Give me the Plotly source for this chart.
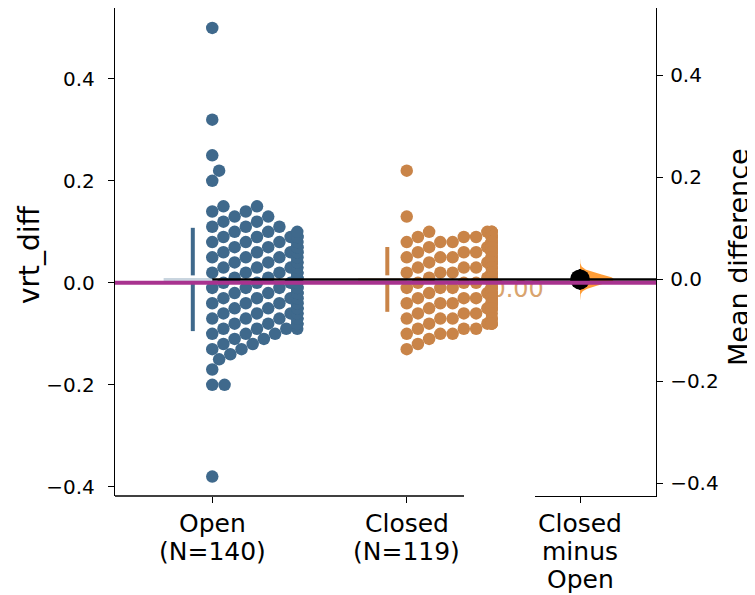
import math
import numpy as np
import plotly.graph_objects as go

# ---------------- data ----------------
categories = ["Open", "Closed"]
group_label_lines = [["Open", "(N=140)"], ["Closed", "(N=119)"]]
delta_label_lines = ["Closed", "minus", "Open"]
y_title = "vrt_diff"
y2_title = "Mean difference"

open_vals = [
    0.50, 0.32, 0.25, 0.22, 0.20, -0.17, -0.20, -0.20, -0.38,
    -0.15,
    -0.14,
    -0.13, -0.13,
    -0.12, -0.12,
    -0.11, -0.11,
    -0.10, -0.10, -0.10,
    -0.09, -0.09, -0.09, -0.09,
    -0.08, -0.08, -0.08, -0.08, -0.08,
    -0.07, -0.07, -0.07, -0.07, -0.07, -0.07,
    -0.06, -0.06, -0.06, -0.06, -0.06, -0.06,
    -0.05, -0.05, -0.05, -0.05, -0.05, -0.05,
    -0.04, -0.04, -0.04, -0.04, -0.04, -0.04,
    -0.03, -0.03, -0.03, -0.03, -0.03, -0.03,
    -0.02, -0.02, -0.02, -0.02, -0.02, -0.02,
    -0.01, -0.01, -0.01, -0.01, -0.01, -0.01,
    0.00, 0.00, 0.00, 0.00, 0.00, 0.00,
    0.01, 0.01, 0.01, 0.01, 0.01, 0.01,
    0.02, 0.02, 0.02, 0.02, 0.02, 0.02,
    0.03, 0.03, 0.03, 0.03, 0.03,
    0.04, 0.04, 0.04, 0.04, 0.04,
    0.05, 0.05, 0.05, 0.05, 0.05,
    0.06, 0.06, 0.06, 0.06, 0.06, 0.06,
    0.07, 0.07, 0.07, 0.07, 0.07,
    0.08, 0.08, 0.08, 0.08, 0.08,
    0.09, 0.09, 0.09, 0.09, 0.09, 0.09,
    0.10, 0.10, 0.10,
    0.11, 0.11, 0.11,
    0.12, 0.12,
    0.13, 0.13,
    0.14, 0.14,
    0.15, 0.15,
]

closed_vals = [
    0.22, 0.13,
    0.10, 0.10, 0.10, 0.10,
    0.09, 0.09, 0.09, 0.09, 0.09, 0.09,
    0.08, 0.08, 0.08, 0.08, 0.08, 0.08, 0.08,
    0.07, 0.07, 0.07, 0.07, 0.07, 0.07,
    0.06, 0.06, 0.06, 0.06, 0.06, 0.06,
    0.05, 0.05, 0.05, 0.05, 0.05, 0.05,
    0.04, 0.04, 0.04, 0.04, 0.04, 0.04,
    0.03, 0.03, 0.03, 0.03, 0.03, 0.03,
    0.02, 0.02, 0.02, 0.02, 0.02, 0.02, 0.02,
    0.01, 0.01, 0.01, 0.01, 0.01, 0.01,
    0.00, 0.00, 0.00, 0.00, 0.00, 0.00,
    -0.01, -0.01, -0.01, -0.01, -0.01, -0.01,
    -0.02, -0.02, -0.02, -0.02, -0.02,
    -0.03, -0.03, -0.03, -0.03, -0.03, -0.03,
    -0.04, -0.04, -0.04, -0.04, -0.04, -0.04,
    -0.05, -0.05, -0.05, -0.05, -0.05,
    -0.06, -0.06, -0.06, -0.06,
    -0.07, -0.07, -0.07, -0.07, -0.07,
    -0.08, -0.08, -0.08, -0.08, -0.08,
    -0.09, -0.09, -0.09,
    -0.10, -0.10, -0.10,
    -0.11, -0.12, -0.13,
]

y_tickvals = [-0.4, -0.2, 0.0, 0.2, 0.4]
y_ticktext = ["\u22120.4", "\u22120.2", "0.0", "0.2", "0.4"]

# ---------------- styling / layout constants ----------------
W, H = 755, 595
OFF = 8                    # page body margin
FONT = "DejaVu Sans"
OPEN_C = "#3F698C"
CLOSED_C = "#C98448"
OPEN_LIGHT = "#C9D5DF"
CLOSED_LIGHT = "#EFD3BB"
VIOLIN_C = "rgba(255,140,20,0.85)"
PURPLE = "#A8338F"


def px(xp):
    return (xp - OFF) / W


def py(yp):
    return (H - (yp - OFF)) / H


X1_L, X1_R = 115, 525      # raw-data axis domain (page px)
X1_SPINE_END = 464
X2_L, X2_R = 535, 656      # delta axis domain (page px)
Y_T, Y_B = 8, 496
YMIN, YMAX = -0.418, 0.539
PPU_X1 = 194.5             # px per category unit
X1_RANGE = [-0.5, -0.5 + (X1_R - X1_L) / PPU_X1]
X2_RANGE = [-0.45, -0.45 + (X2_R - X2_L) / 100.0]
PPU_Y = (Y_B - Y_T) / (YMAX - YMIN)

DOT_D = 12.3
MAX_OFF = 85.0


def swarm_offsets(vals, d, ppu, max_off):
    ys = np.asarray(vals, dtype=float) * ppu
    order = np.argsort(ys, kind="stable")
    out = np.zeros(len(ys))
    px_l, py_l = [], []
    for i in order:
        y = ys[i]
        neigh = [(a, b) for a, b in zip(px_l, py_l) if abs(b - y) < d]
        cand = [0.0]
        for a, b in neigh:
            dx = math.sqrt(d * d - (b - y) ** 2)
            cand += [a + dx, a - dx]
        cand = sorted(c for c in cand if c >= -1e-9)
        x = cand[-1]
        for c in cand:
            if all((c - a) ** 2 + (y - b) ** 2 >= d * d - 1e-6 for a, b in neigh):
                x = c
                break
        px_l.append(x)
        py_l.append(y)
        out[i] = min(x, max_off)
    return out


open_x = swarm_offsets(open_vals, DOT_D, PPU_Y, MAX_OFF) / PPU_X1 + 0
closed_x = swarm_offsets(closed_vals, DOT_D, PPU_Y, MAX_OFF) / PPU_X1 + 1

m_open, sd_open = float(np.mean(open_vals)), float(np.std(open_vals, ddof=1))
m_closed, sd_closed = float(np.mean(closed_vals)), float(np.std(closed_vals, ddof=1))
diff = m_closed - m_open
se = math.sqrt(sd_open ** 2 / len(open_vals) + sd_closed ** 2 / len(closed_vals))

fig = go.Figure()

# light mean lines
for c, m, col in [(0, m_open, OPEN_LIGHT), (1, m_closed, CLOSED_LIGHT)]:
    fig.add_trace(go.Scatter(x=[c - 0.25, c], y=[m, m], mode="lines",
                             line=dict(color=col, width=3), hoverinfo="skip",
                             xaxis="x", yaxis="y"))

# gapped mean +/- sd lines
GAP = 0.008
for c, m, s, col in [(0, m_open, sd_open, OPEN_C), (1, m_closed, sd_closed, CLOSED_C)]:
    xx = c - 0.1
    fig.add_trace(go.Scatter(x=[xx, xx, None, xx, xx],
                             y=[m + s, m + GAP, None, m - GAP, m - s],
                             mode="lines", line=dict(color=col, width=4),
                             hoverinfo="skip", xaxis="x", yaxis="y"))

# effect size text (behind dots)
fig.add_trace(go.Scatter(x=[1.43], y=[-0.015], mode="text",
                         text=[f"{diff:.2f}"], textposition="middle right",
                         textfont=dict(family=FONT, size=24, color="#D9A46E"),
                         cliponaxis=False, hoverinfo="skip", xaxis="x", yaxis="y"))

# swarms
fig.add_trace(go.Scatter(x=open_x, y=open_vals, mode="markers",
                         marker=dict(size=12.5, color=OPEN_C, line=dict(width=0)),
                         cliponaxis=False, xaxis="x", yaxis="y"))
fig.add_trace(go.Scatter(x=closed_x, y=closed_vals, mode="markers",
                         marker=dict(size=12.5, color=CLOSED_C, line=dict(width=0)),
                         cliponaxis=False, xaxis="x", yaxis="y"))

# delta: distribution of the mean difference (normal approximation) as half violin
yy = np.linspace(diff - 4 * se, diff + 4 * se, 161)
pdf = np.exp(-0.5 * ((yy - diff) / se) ** 2)
vx = 0.34 * pdf / pdf.max()
fig.add_trace(go.Scatter(x=np.concatenate([vx, np.zeros_like(vx)[::-1]]),
                         y=np.concatenate([yy, yy[::-1]]),
                         fill="toself", fillcolor=VIOLIN_C, mode="lines",
                         line=dict(width=0, color=VIOLIN_C), hoverinfo="skip",
                         xaxis="x2", yaxis="y2"))
fig.add_trace(go.Scatter(x=[0, 0], y=[diff - 1.96 * se, diff + 1.96 * se], mode="lines",
                         line=dict(color="black", width=2.5), xaxis="x2", yaxis="y2"))
fig.add_trace(go.Scatter(x=[0], y=[diff], mode="markers",
                         marker=dict(size=20, color="black"), xaxis="x2", yaxis="y2"))

open_px = X1_L + (0 - X1_RANGE[0]) * PPU_X1
fig.add_shape(type="line", xref="paper", yref="paper",
              x0=px(X1_L), x1=px(X1_SPINE_END), y0=py(Y_B), y1=py(Y_B),
              line=dict(color="black", width=1.3), layer="above")
fig.add_shape(type="line", xref="paper", yref="y",
              x0=px(open_px), x1=px(X2_R), y0=m_open, y1=m_open,
              line=dict(color="black", width=2.5), layer="above")
fig.add_shape(type="line", xref="paper", yref="y",
              x0=px(X1_L), x1=px(X2_R), y0=0, y1=0,
              line=dict(color=PURPLE, width=4), layer="above")

# x tick labels (multi-line, tight line spacing)
LINE_Y = [523, 551, 579]
label_font = dict(family=FONT, size=25, color="black")
for c, lines in enumerate(group_label_lines):
    for k, t in enumerate(lines):
        fig.add_annotation(x=c, xref="x", y=py(LINE_Y[k]), yref="paper", text=t,
                           showarrow=False, xanchor="center", yanchor="middle",
                           font=label_font)
for k, t in enumerate(delta_label_lines):
    fig.add_annotation(x=0, xref="x2", y=py(LINE_Y[k]), yref="paper", text=t,
                       showarrow=False, xanchor="center", yanchor="middle",
                       font=label_font)

# axis titles
fig.add_annotation(x=px(30), xref="paper", y=py(255), yref="paper", text=y_title,
                   textangle=-90, showarrow=False, xanchor="center", yanchor="middle",
                   font=dict(family=FONT, size=28, color="black"))
fig.add_annotation(x=px(739), xref="paper", y=py(257), yref="paper", text=y2_title,
                   textangle=-90, showarrow=False, xanchor="center", yanchor="middle",
                   font=dict(family=FONT, size=27, color="black"))

tick_font_y = dict(family=FONT, size=20, color="black")

fig.update_layout(
    template="none",
    width=W, height=H,
    margin=dict(l=0, r=0, t=0, b=0),
    paper_bgcolor="white", plot_bgcolor="rgba(0,0,0,0)",
    showlegend=False,
    font=dict(family=FONT, color="black"),
    xaxis=dict(domain=[px(X1_L), px(X1_R)], range=X1_RANGE, anchor="y",
               tickvals=[0, 1], ticktext=["", ""], ticks="outside",
               ticklen=6, tickwidth=1.3, tickcolor="black",
               showline=False, showgrid=False, zeroline=False, automargin=False),
    yaxis=dict(domain=[py(Y_B), py(Y_T)], range=[YMIN, YMAX], anchor="x",
               tickvals=y_tickvals, ticktext=y_ticktext, ticks="outside",
               ticklen=6, tickwidth=1.3, tickcolor="black", tickfont=tick_font_y,
               showline=True, linecolor="black", linewidth=1.3,
               showgrid=False, zeroline=False, automargin=False,
               ticklabelstandoff=9),
    xaxis2=dict(domain=[px(X2_L), px(X2_R)], range=X2_RANGE, anchor="y2",
                tickvals=[0], ticktext=[""], ticks="outside",
                ticklen=6, tickwidth=1.3, tickcolor="black",
                showline=True, linecolor="black", linewidth=1.3,
                showgrid=False, zeroline=False, automargin=False),
    yaxis2=dict(domain=[py(Y_B), py(Y_T)],
                range=[YMIN - m_open, YMAX - m_open], anchor="x2", side="right",
                tickvals=y_tickvals, ticktext=y_ticktext, ticks="outside",
                ticklen=6, tickwidth=1.3, tickcolor="black", tickfont=tick_font_y,
                showline=True, linecolor="black", linewidth=1.3,
                showgrid=False, zeroline=False, automargin=False,
                ticklabelstandoff=3),
)

fig.write_html("out.html")
